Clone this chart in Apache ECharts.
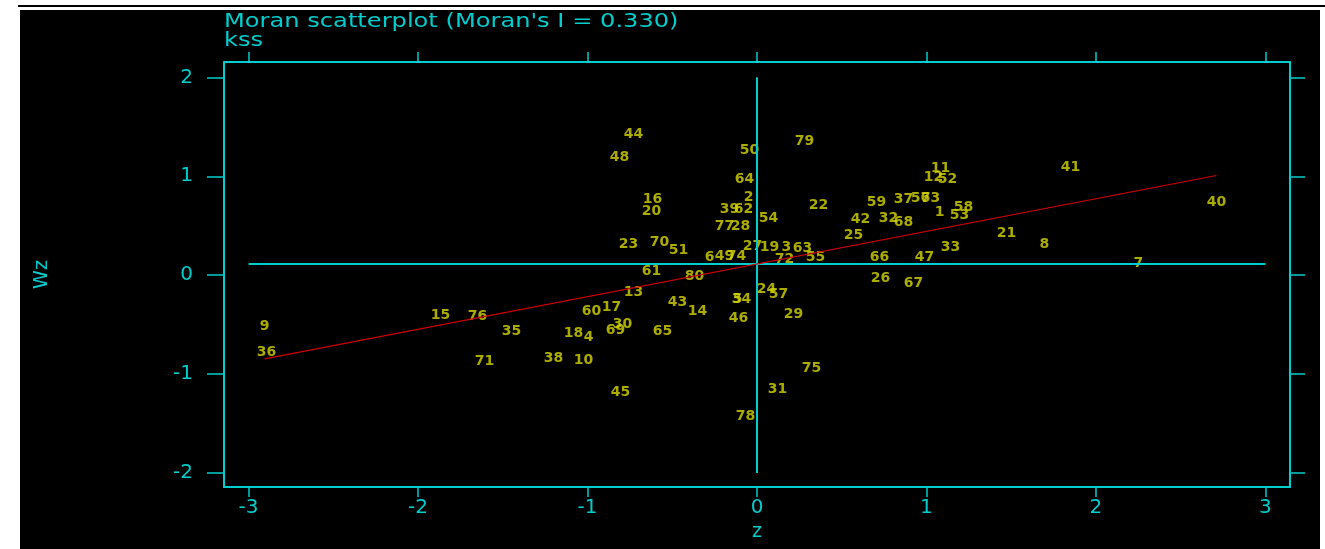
<!DOCTYPE html>
<html>
<head>
<meta charset="utf-8">
<script src="https://cdn.jsdelivr.net/npm/echarts@6/dist/echarts.min.js"></script>
<style>
html,body{margin:0;padding:0;background:#ffffff;width:1325px;height:549px;overflow:hidden;position:relative;}
#topline{position:absolute;left:18px;right:0;top:5px;height:2px;background:#000;}
#chart{position:absolute;left:20px;top:10px;width:1300px;height:539px;}
</style>
</head>
<body>
<div id="topline"></div>
<div id="chart"></div>
<script>
// region ids
var ids = [1,2,3,4,5,6,7,8,9,10,11,12,13,14,15,16,17,18,19,20,21,22,23,24,25,26,27,28,29,30,31,32,33,34,35,36,37,38,39,40,41,42,43,44,45,46,47,48,49,50,51,52,53,54,55,56,57,58,59,60,61,62,63,64,65,66,67,68,69,70,71,72,73,74,75,76,77,78,79,80];
// standardised variable z
var zVals = [1.077,-0.050,0.174,-0.994,-0.115,-0.280,2.250,1.696,-2.906,-1.024,1.083,1.041,-0.729,-0.351,-1.867,-0.617,-0.858,-1.083,0.074,-0.622,1.472,0.363,-0.758,0.056,0.569,0.729,-0.027,-0.097,0.215,-0.794,0.121,0.776,1.142,-0.091,-1.448,-2.894,0.864,-1.201,-0.162,2.711,1.850,0.611,-0.469,-0.729,-0.805,-0.109,0.988,-0.811,-0.192,-0.044,-0.463,1.124,1.195,0.068,0.345,0.965,0.127,1.218,0.705,-0.976,-0.622,-0.080,0.268,-0.074,-0.558,0.723,0.923,0.864,-0.835,-0.575,-1.608,0.162,1.024,-0.121,0.322,-1.649,-0.192,-0.068,0.280,-0.369];
// spatially lagged variable Wz
var wzVals = [0.639,0.791,0.286,-0.624,-0.249,0.185,0.124,0.316,-0.522,-0.856,1.084,0.993,-0.169,-0.361,-0.411,0.763,-0.330,-0.583,0.286,0.650,0.427,0.710,0.316,-0.139,0.407,-0.027,0.296,0.498,-0.391,-0.502,-1.149,0.579,0.286,-0.249,-0.563,-0.785,0.771,-0.845,0.670,0.740,1.094,0.569,-0.270,1.427,-1.189,-0.441,0.185,1.195,0.195,1.266,0.256,0.973,0.609,0.579,0.185,0.781,-0.189,0.690,0.740,-0.361,0.043,0.670,0.276,0.973,-0.563,0.185,-0.078,0.538,-0.553,0.336,-0.866,0.165,0.781,0.195,-0.946,-0.421,0.498,-1.431,1.357,-0.007];
var moranI = 0.330;     // slope of regression line
var meanWz = 0.113;     // intercept / mean of Wz
var meanZ = 0;
var xTicks = [-3,-2,-1,0,1,2,3];
var yTicks = [-2,-1,0,1,2];
var titleText = "Moran scatterplot (Moran's I = 0.330)";
var subText = "kss";

var CYAN = '#00CDCD', YEL = '#D6D600', RED = '#D00000';
var FONT = 'DejaVu Sans';

var pts = ids.map(function(id,i){ return {name:String(id), value:[zVals[i], wzVals[i]]}; });
var zMin = Math.min.apply(null, zVals), zMax = Math.max.apply(null, zVals);
var regLine = [[zMin, meanWz + moranI*zMin],[zMax, meanWz + moranI*zMax]];
var vLine = [[meanZ, yTicks[0]],[meanZ, yTicks[yTicks.length-1]]];
var hLine = [[xTicks[0], meanWz],[xTicks[xTicks.length-1], meanWz]];

var chart = echarts.init(document.getElementById('chart'), null, {renderer:'canvas'});
var xBase = {
  type:'value', min:-3.145, max:3.145,
  splitLine:{show:false},
  axisLine:{show:true, onZero:false, lineStyle:{color:CYAN, width:2}},
  axisTick:{show:true, inside:false, length:10, customValues:xTicks, lineStyle:{color:CYAN, width:1.5}}
};
var yBase = {
  type:'value', min:-2.141, max:2.155,
  splitLine:{show:false},
  axisLine:{show:true, onZero:false, lineStyle:{color:CYAN, width:2}},
  axisTick:{show:true, inside:false, customValues:yTicks, lineStyle:{color:CYAN, width:1.5}}
};
var option = {
  backgroundColor:'#000000',
  animation:false,
  graphic:[
    {type:'text', left:204, top:3, scaleX:1.27, originX:0,
     style:{text:titleText, fill:CYAN, font:'19px "DejaVu Sans"'}},
    {type:'text', left:204, top:22, scaleX:1.27, originX:0,
     style:{text:subText, fill:CYAN, font:'19px "DejaVu Sans"'}}
  ],
  grid:{left:204, right:30, top:52, bottom:62},
  xAxis:[
    Object.assign({}, xBase, {position:'bottom',
      name:'z', nameLocation:'middle', nameGap:23,
      nameTextStyle:{color:CYAN, fontSize:19, fontFamily:FONT},
      axisLabel:{show:true, customValues:xTicks, color:CYAN, fontSize:20, fontFamily:FONT, margin:11}}),
    Object.assign({}, xBase, {position:'top', axisLabel:{show:false}})
  ],
  yAxis:[
    Object.assign({}, yBase, {position:'left',
      name:'Wz', nameLocation:'middle', nameGap:172, nameRotate:90,
      nameTextStyle:{color:CYAN, fontSize:19, fontFamily:FONT},
      axisTick:Object.assign({}, yBase.axisTick, {length:17}),
      axisLabel:{show:true, customValues:yTicks, color:CYAN, fontSize:20, fontFamily:FONT, margin:31}}),
    Object.assign({}, yBase, {position:'right',
      axisTick:Object.assign({}, yBase.axisTick, {length:15}),
      axisLabel:{show:false}})
  ],
  series:[
    {type:'line', data:vLine, xAxisIndex:0, yAxisIndex:0, symbol:'none', silent:true,
     lineStyle:{color:CYAN, width:2}},
    {type:'line', data:hLine, xAxisIndex:0, yAxisIndex:0, symbol:'none', silent:true,
     lineStyle:{color:CYAN, width:2}},
    {type:'line', data:regLine, xAxisIndex:0, yAxisIndex:0, symbol:'none', silent:true,
     lineStyle:{color:RED, width:1.2}},
    {type:'scatter', data:pts, xAxisIndex:0, yAxisIndex:0, symbolSize:1,
     itemStyle:{color:'rgba(0,0,0,0)'},
     label:{show:true, position:'inside', formatter:'{b}', color:YEL, fontSize:14, fontWeight:'bold', fontFamily:FONT},
     labelLayout:{hideOverlap:false}}
  ]
};
chart.setOption(option);
</script>
</body>
</html>
